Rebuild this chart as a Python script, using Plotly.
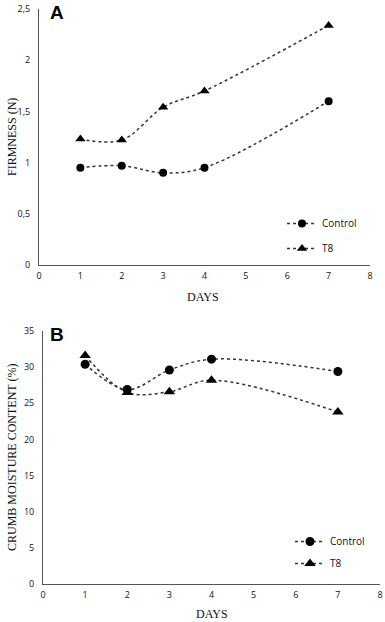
import plotly.graph_objects as go

days = [1, 2, 3, 4, 7]
firm_control = [0.95, 0.97, 0.90, 0.95, 1.60]
firm_t8 = [1.23, 1.22, 1.54, 1.70, 2.34]
moist_control = [30.4, 26.9, 29.6, 31.1, 29.4]
moist_t8 = [31.6, 26.5, 26.6, 28.2, 23.8]

x_ticks = [0, 1, 2, 3, 4, 5, 6, 7, 8]
ya_vals = [0, 0.5, 1, 1.5, 2, 2.5]
ya_text = ["0", "0,5", "1", "1,5", "2", "2,5"]
yb_vals = [0, 5, 10, 15, 20, 25, 30, 35]

W, H = 385, 622
LINE = "#333333"
AX = "#555555"
tickfont = dict(family="Open Sans, Liberation Sans, sans-serif", size=9, color="#111")
serif = dict(family="Liberation Serif, Times New Roman, serif", size=12, color="#111")

fig = go.Figure()

def add(x, y, name, sym, size, xa, ya, leg, showleg=True):
    fig.add_trace(go.Scatter(
        x=x, y=y, name=name, mode="lines+markers",
        line=dict(color=LINE, width=1.5, dash="dot", shape="spline", smoothing=1),
        marker=dict(symbol=sym, size=size, color="black"),
        xaxis=xa, yaxis=ya, legend=leg, legendgroup=leg + name, showlegend=showleg))

add(days, firm_control, "Control", "circle", 8, "x", "y", "legend")
add(days, firm_t8, "T8", "triangle-up", 9, "x", "y", "legend")
add(days, moist_control, "Control", "circle", 9, "x2", "y2", "legend2")
add(days, moist_t8, "T8", "triangle-up", 10, "x2", "y2", "legend2")

def px(v):
    return v / W

def py(v):
    return 1 - v / H

axis_common = dict(showline=True, linecolor=AX, linewidth=1, showgrid=False,
                   zeroline=False, ticks="", tickfont=tickfont, fixedrange=True,
                   automargin=False, ticklabeloverflow="allow")

legend_common = dict(font=dict(family="Open Sans, Liberation Sans, sans-serif", size=10, color="#111"),
                     bgcolor="rgba(0,0,0,0)", traceorder="grouped",
                     itemwidth=30, xanchor="left", yanchor="top")

fig.update_layout(
    template="none",
    width=W, height=H, margin=dict(l=0, r=0, t=0, b=0, autoexpand=False),
    paper_bgcolor="white", plot_bgcolor="white",
    xaxis=dict(domain=[px(39), px(370)], range=[0, 8], tickvals=x_ticks,
               anchor="y", ticklabelstandoff=2, **axis_common),
    yaxis=dict(domain=[py(265), py(9)], range=[0, 2.5], tickvals=ya_vals,
               ticktext=ya_text, anchor="x", ticklabelstandoff=6, **axis_common),
    xaxis2=dict(domain=[px(43), px(380)], range=[0, 8], tickvals=x_ticks,
                anchor="y2", ticklabelstandoff=2, **axis_common),
    yaxis2=dict(domain=[py(584), py(331)], range=[0, 35], tickvals=yb_vals,
                anchor="x2", ticklabelstandoff=6, **axis_common),
    legend=dict(x=px(282), y=py(209), tracegroupgap=6, **legend_common),
    legend2=dict(x=px(290), y=py(527), tracegroupgap=3, **legend_common),
    showlegend=True,
)

annots = [
    dict(text="FIRMNESS (N)", x=px(12), y=py(137), textangle=-90, font=serif),
    dict(text="DAYS", x=px(203), y=py(297), font=serif),
    dict(text="CRUMB MOISTURE CONTENT (%)", x=px(12), y=py(458), textangle=-90, font=serif),
    dict(text="DAYS", x=px(212), y=py(614), font=serif),
    dict(text="<b>A</b>", x=px(57), y=py(12), font=dict(family="Liberation Sans, Arial, sans-serif", size=19, color="black")),
    dict(text="<b>B</b>", x=px(57), y=py(335), font=dict(family="Liberation Sans, Arial, sans-serif", size=19, color="black")),
]
for a in annots:
    fig.add_annotation(xref="paper", yref="paper", showarrow=False,
                       xanchor="center", yanchor="middle", **a)

fig.write_html("out.html", config={"displayModeBar": False},
               post_script="document.body.style.margin='0';document.body.style.padding='0';")
